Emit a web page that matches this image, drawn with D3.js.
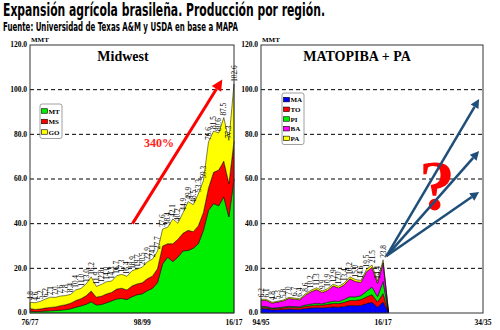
<!DOCTYPE html>
<html>
<head>
<meta charset="utf-8">
<script src="https://cdn.jsdelivr.net/npm/d3@7"></script>
<style>
  body { margin: 0; background: #fff; }
  svg { display: block; font-family: "Liberation Serif", "Times New Roman", serif; }
</style>
</head>
<body>
<svg id="chart" width="500" height="330"></svg>
<script>
// Midwest (76/77 .. 16/17), MMT
const midSeasons = ['76/77', '77/78', '78/79', '79/80', '80/81', '81/82', '82/83', '83/84', '84/85', '85/86',
  '86/87', '87/88', '88/89', '89/90', '90/91', '91/92', '92/93', '93/94', '94/95', '95/96',
  '96/97', '97/98', '98/99', '99/00', '00/01', '01/02', '02/03', '03/04', '04/05', '05/06',
  '06/07', '07/08', '08/09', '09/10', '10/11', '11/12', '12/13', '13/14', '14/15', '15/16', '16/17'];
const midMT = [0.8, 0.6, 0.7, 0.9, 1.0, 1.1, 1.3, 1.5, 1.9, 2.6, 3.2, 3.9, 5.0, 3.6, 3.8, 4.6, 5.4, 6.3, 6.5, 6.0,
  7.3, 8.2, 8.6, 10.0, 11.0, 13.6, 22.0, 25.0, 23.0, 25.0, 27.8, 28.0, 29.0, 31.0, 37.0, 46.0, 49.0, 48.0, 52.0, 43.0, 60.0];
const midMS = [1.2, 1.0, 1.1, 1.3, 1.5, 1.6, 2.0, 2.2, 2.5, 3.0, 3.2, 3.8, 4.8, 3.5, 3.7, 3.9, 3.8, 4.4, 4.6, 4.3,
  4.8, 4.8, 4.9, 5.3, 5.5, 6.2, 8.0, 6.0, 8.0, 8.0, 7.9, 9.0, 7.4, 8.0, 8.0, 10.0, 14.0, 16.0, 16.0, 15.0, 17.0];
const midGO = [2.8, 3.0, 3.4, 4.0, 4.6, 4.3, 4.3, 4.1, 4.0, 4.8, 4.6, 5.3, 6.4, 4.8, 5.3, 5.5, 5.1, 6.0, 6.2, 6.1,
  6.8, 6.7, 7.0, 7.6, 7.6, 7.9, 7.6, 7.4, 11.1, 7.2, 9.2, 12.9, 12.1, 14.3, 14.3, 20.6, 18.5, 16.6, 19.5, 19.3, 25.6];
const midTotals = [4.8, 4.6, 5.2, 6.2, 7.1, 7.0, 7.6, 7.8, 8.4, 10.4, 11.0, 13.0, 16.2, 11.9, 12.8, 14.0, 14.3, 16.7, 17.3, 16.4,
  18.9, 19.7, 20.5, 22.9, 24.1, 27.7, 37.6, 38.4, 42.1, 40.2, 44.9, 49.9, 48.5, 53.3, 59.3, 76.6, 81.5, 80.6, 87.5, 77.3, 102.6];
const midTicks = ['76/77', '98/99', '16/17'];
const midKeys = ['MT', 'MS', 'GO'];
const midColors = ['#00ee00', '#ff0000', '#ffff00'];

// MATOPIBA + PA (94/95 .. 34/35), data to 16/17 then drop to 0
const matoSeasons = ['94/95', '95/96', '96/97', '97/98', '98/99', '99/00', '00/01', '01/02', '02/03', '03/04',
  '04/05', '05/06', '06/07', '07/08', '08/09', '09/10', '10/11', '11/12', '12/13', '13/14',
  '14/15', '15/16', '16/17', '17/18', '18/19', '19/20', '20/21', '21/22', '22/23', '23/24',
  '24/25', '25/26', '26/27', '27/28', '28/29', '29/30', '30/31', '31/32', '32/33', '33/34', '34/35'];
const matoMA = [2.0, 1.9, 1.4, 1.5, 1.6, 1.8, 1.7, 1.6, 2.0, 2.2, 2.4, 2.3, 2.5, 2.7, 2.6, 2.9, 3.4, 3.3, 3.4, 4.2, 4.8, 2.6, 4.9, 0];
const matoTO = [0.6, 0.6, 0.5, 0.6, 0.7, 0.8, 0.8, 0.8, 1.0, 1.1, 1.2, 1.2, 1.4, 1.6, 1.6, 1.9, 2.2, 2.3, 2.6, 3.0, 3.4, 2.3, 3.8, 0];
const matoPI = [0.4, 0.4, 0.3, 0.3, 0.4, 0.4, 0.4, 0.4, 0.6, 0.7, 0.8, 0.6, 0.9, 1.0, 1.0, 1.3, 1.7, 1.6, 1.8, 2.5, 3.4, 2.4, 5.4, 0];
const matoBA = [2.7, 2.7, 2.2, 2.5, 2.7, 3.5, 3.3, 3.1, 4.4, 5.5, 6.1, 5.1, 5.3, 6.8, 6.0, 6.5, 8.0, 6.9, 5.9, 8.8, 8.8, 6.0, 8.4, 0];
const matoPA = [0.5, 0.5, 0.4, 0.4, 0.4, 0.5, 0.5, 0.5, 0.6, 0.7, 0.8, 0.7, 0.8, 0.8, 0.8, 0.8, 0.9, 0.9, 0.9, 1.0, 1.1, 1.1, 1.3, 0];
const matoTotals = [6.2, 6.1, 4.8, 5.3, 5.8, 7.0, 6.7, 6.4, 8.6, 10.2, 11.3, 9.9, 10.9, 12.9, 12.0, 13.4, 16.2, 15.0, 14.6, 19.5, 21.5, 14.4, 23.8];
const matoTicks = ['94/95', '16/17', '34/35'];
const matoKeys = ['MA', 'TO', 'PI', 'BA', 'PA'];
const matoColors = ['#0000ff', '#ff0000', '#00ee00', '#ff00ff', '#ffff00'];

const yTicks = [0, 20, 40, 60, 80, 100, 120];

const svg = d3.select('#chart');
const plotTop = 45, plotBottom = 313;

svg.append('text').attr('x', 3).attr('y', 16)
  .attr('textLength', 322).attr('lengthAdjust', 'spacingAndGlyphs')
  .style('font-family', '"Liberation Sans Narrow", "DejaVu Sans Condensed", "Liberation Sans", Arial, sans-serif')
  .style('font-weight', 'bold').style('font-size', '17px')
  .text('Expansión agrícola brasileña. Producción por región.');
svg.append('text').attr('x', 3).attr('y', 30.5)
  .attr('textLength', 235).attr('lengthAdjust', 'spacingAndGlyphs')
  .style('font-family', '"Liberation Sans Narrow", "DejaVu Sans Condensed", "Liberation Sans", Arial, sans-serif')
  .style('font-weight', 'bold').style('font-size', '11.5px')
  .text('Fuente: Universidad de Texas A&M y USDA en base a MAPA');

function arrow(g, x1, y1, x2, y2, color, width, head) {
  const len = Math.hypot(x2 - x1, y2 - y1);
  g.append('line').attr('x1', x1).attr('y1', y1)
    .attr('x2', x2 - (x2 - x1) * head / len)
    .attr('y2', y2 - (y2 - y1) * head / len)
    .attr('stroke', color).attr('stroke-width', width);
  const a = Math.atan2(y2 - y1, x2 - x1);
  const w = head * 0.5;
  const bx = x2 - head * Math.cos(a), by = y2 - head * Math.sin(a);
  g.append('path')
    .attr('d', `M${x2},${y2}L${bx + w * Math.sin(a)},${by - w * Math.cos(a)}L${bx - w * Math.sin(a)},${by + w * Math.cos(a)}Z`)
    .attr('fill', color);
}

function drawPanel(o) {
  const g = svg.append('g');
  const x = d3.scaleLinear().domain([0, o.seasons.length - 1]).range([o.x0, o.x1]);
  const y = d3.scaleLinear().domain([0, 120]).range([plotBottom, plotTop]);

  // gridlines
  g.selectAll('.grid').data(yTicks.filter((t) => t > 0 && t < 120)).enter()
    .append('line')
    .attr('x1', o.x0).attr('x2', o.x1)
    .attr('y1', (t) => y(t)).attr('y2', (t) => y(t))
    .attr('stroke', '#000').attr('stroke-width', 1).attr('stroke-dasharray', '4,3');

  const rows = o.series[0].map((_, i) => {
    const r = { i };
    o.keys.forEach((k, j) => { r[k] = o.series[j][i]; });
    return r;
  });
  const stacked = d3.stack().keys(o.keys)(rows);
  const area = d3.area()
    .x((d) => x(d.data.i))
    .y0((d) => y(d[0]))
    .y1((d) => y(d[1]));
  g.selectAll('.layer').data(stacked).enter()
    .append('path')
    .attr('d', area)
    .attr('fill', (d, i) => o.colors[i])
    .attr('stroke', '#000').attr('stroke-width', 0.5);

  // value labels
  g.selectAll('.lbl').data(o.totals).enter()
    .append('text')
    .attr('transform', (d, i) => `translate(${x(i) + 2.5},${y(d) - 2}) rotate(-90)`)
    .style('font-size', '7.3px')
    .text((d) => d.toFixed(1));

  // frame
  g.append('rect').attr('x', o.x0).attr('y', plotTop)
    .attr('width', o.x1 - o.x0).attr('height', plotBottom - plotTop)
    .attr('fill', 'none').attr('stroke', '#333').attr('stroke-width', 1);

  // y axis labels
  g.selectAll('.yl').data(yTicks).enter()
    .append('text')
    .attr('x', o.x0 - 3).attr('y', (t) => y(t)).attr('dy', '0.3em')
    .attr('text-anchor', 'end')
    .style('font-size', '7.5px').style('font-weight', 'bold')
    .text((t) => t.toFixed(1));
  g.append('text').attr('x', o.x0 + 1).attr('y', 42)
    .style('font-size', '7px').style('font-weight', 'bold').text('MMT');

  // x labels
  g.selectAll('.xl').data(o.ticks).enter()
    .append('text')
    .attr('x', (t) => x(o.seasons.indexOf(t))).attr('y', 325)
    .attr('text-anchor', 'middle')
    .style('font-size', '7.5px').style('font-weight', 'bold')
    .text((t) => t);

  // title
  g.append('text').attr('x', o.titleX).attr('y', 61)
    .attr('text-anchor', 'middle')
    .style('font-size', '14px').style('font-weight', 'bold')
    .text(o.title);

  // legend
  const lg = g.append('g').attr('transform', `translate(${o.legX},${o.legY})`);
  lg.append('rect').attr('width', 22).attr('height', o.keys.length * o.legStep + 3)
    .attr('rx', 2).attr('fill', '#fff').attr('stroke', '#888').attr('stroke-width', 0.8);
  o.keys.forEach((k, i) => {
    const yy = 2 + i * o.legStep + o.legStep / 2;
    lg.append('rect').attr('x', 1.5).attr('y', yy - 2.5).attr('width', 6).attr('height', 4.5)
      .attr('fill', o.colors[i]).attr('stroke', '#000').attr('stroke-width', 0.6);
    lg.append('text').attr('x', 8.5).attr('y', yy).attr('dy', '0.35em')
      .style('font-size', '7px').style('font-weight', 'bold').text(k);
  });

  return { g, x, y };
}

const mid = drawPanel({
  seasons: midSeasons, series: [midMT, midMS, midGO], totals: midTotals,
  keys: midKeys, colors: midColors, ticks: midTicks,
  x0: 30, x1: 234, title: 'Midwest', titleX: 123,
  legX: 40, legY: 104, legStep: 10.5
});
arrow(mid.g, mid.x(20.1), mid.y(40), mid.x(37.7), mid.y(104.5), '#ff0000', 3, 11);
mid.g.append('text').attr('x', mid.x(25.3)).attr('y', mid.y(74.5))
  .attr('text-anchor', 'middle')
  .style('font-size', '12px').style('font-weight', 'bold').style('fill', '#ff2020')
  .text('340%');

const mato = drawPanel({
  seasons: matoSeasons, series: [matoMA, matoTO, matoPI, matoBA, matoPA], totals: matoTotals,
  keys: matoKeys, colors: matoColors, ticks: matoTicks,
  x0: 261, x1: 483, title: 'MATOPIBA + PA', titleX: 357,
  legX: 282, legY: 93, legStep: 9.7
});
mato.g.append('text').attr('x', mato.x(31.7)).attr('y', mato.y(46))
  .attr('text-anchor', 'middle')
  .style('font-size', '72px').style('font-weight', 'bold').style('fill', '#ff0000')
  .text('?');
[95.8, 72.5, 54.2].forEach((v) => {
  arrow(mato.g, mato.x(22.6), mato.y(25.5), mato.x(39.3), mato.y(v), '#1f4e79', 2.5, 9);
});
</script>
</body>
</html>
